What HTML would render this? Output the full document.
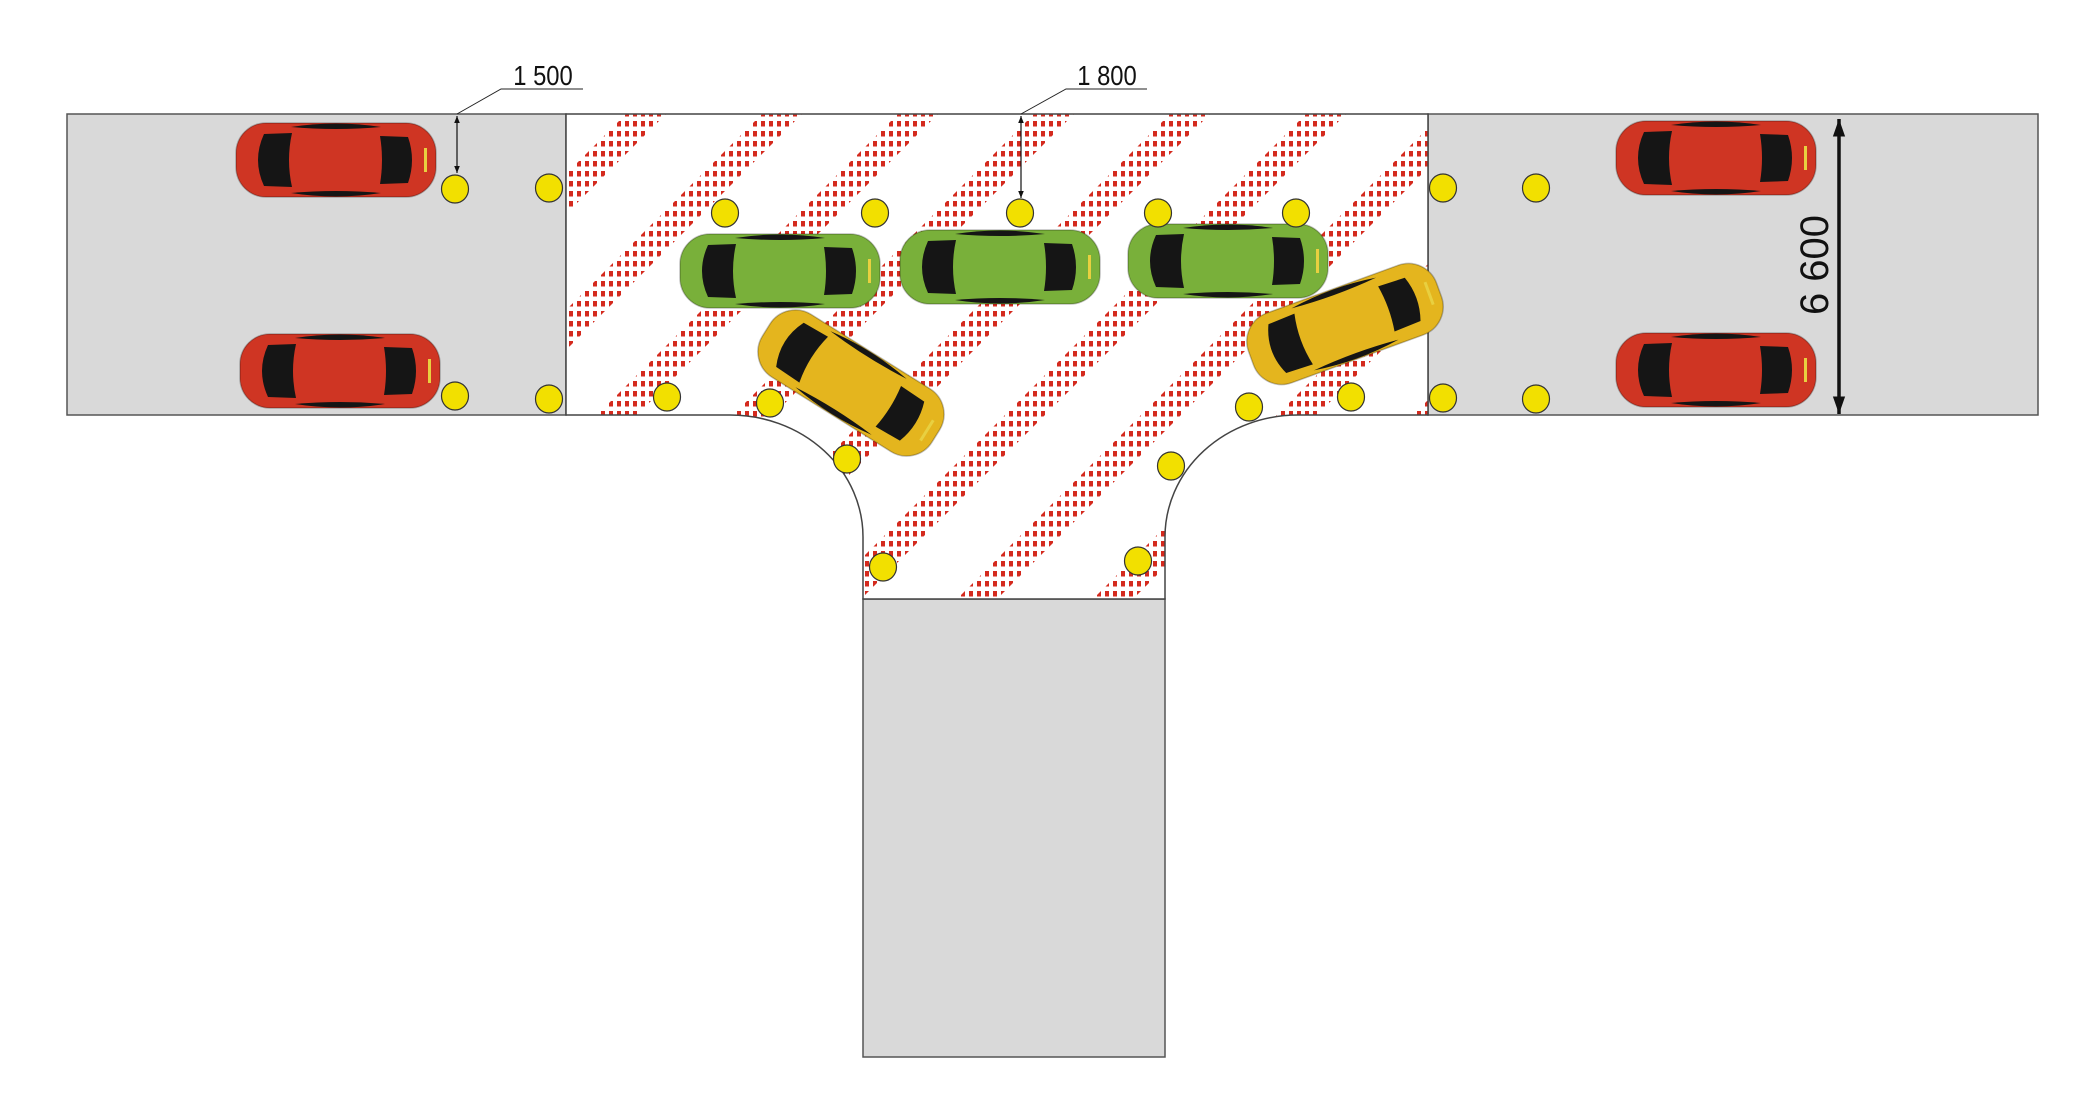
<!DOCTYPE html>
<html><head><meta charset="utf-8"><style>
html,body{margin:0;padding:0;background:#fff;}
svg{display:block;}
text{font-family:"Liberation Sans",sans-serif;fill:#111;}
</style></head><body>
<svg width="2100" height="1106" viewBox="0 0 2100 1106" xmlns="http://www.w3.org/2000/svg">
<defs>
<pattern id="dots" width="8" height="10" patternUnits="userSpaceOnUse">
<rect x="1" y="1" width="4" height="5.5" fill="#d42a1e"/>
</pattern>
<clipPath id="tclip">
<path d="M566,114 H1428 V415 H1298 A133,122 0 0 0 1165,537 V599 H863 V537 A133,122 0 0 0 730,415 H566 Z"/>
</clipPath>
<marker id="ah" viewBox="0 0 10 10" refX="10" refY="5" markerWidth="6" markerHeight="6" orient="auto-start-reverse"><path d="M0,1 L10,5 L0,9 Z" fill="#111"/></marker>
<marker id="ahb" viewBox="0 0 10 10" refX="10" refY="5" markerWidth="5" markerHeight="5" orient="auto-start-reverse"><path d="M0,1.5 L10,5 L0,8.5 Z" fill="#111"/></marker>
<g id="car">
<rect x="-100" y="-37" width="200" height="74" rx="30" fill="currentColor" stroke="rgba(0,0,0,0.25)" stroke-width="1.5"/>
<path d="M-72,-26 Q-84,0 -72,26 L-44,27 Q-50,0 -44,-27 Z" fill="#151515"/>
<path d="M44,-24 L72,-23 Q80,0 72,23 L44,24 Q48,0 44,-24 Z" fill="#151515"/>
<path d="M-45,-33 Q0,-40 45,-33 Q0,-29 -45,-33 Z" fill="#151515"/>
<path d="M-45,33 Q0,40 45,33 Q0,29 -45,33 Z" fill="#151515"/>
<rect x="88" y="-12" width="3" height="24" fill="#e8d040"/>
</g>
</defs>

<rect x="67" y="114" width="499" height="301" fill="#d9d9d9" stroke="#555" stroke-width="1.5"/>
<rect x="1428" y="114" width="610" height="301" fill="#d9d9d9" stroke="#555" stroke-width="1.5"/>
<rect x="863" y="599" width="302" height="458" fill="#d9d9d9" stroke="#555" stroke-width="1.5"/>

<path d="M566,114 H1428 V415 H1298 A133,122 0 0 0 1165,537 V599 H863 V537 A133,122 0 0 0 730,415 H566 Z" fill="#fff"/>
<g clip-path="url(#tclip)" fill="url(#dots)">
<polygon points="354,114 394,114 -106,614 -146,614"/>
<polygon points="490,114 530,114 30,614 -10,614"/>
<polygon points="626,114 666,114 166,614 126,614"/>
<polygon points="762,114 802,114 302,614 262,614"/>
<polygon points="898,114 938,114 438,614 398,614"/>
<polygon points="1034,114 1074,114 574,614 534,614"/>
<polygon points="1170,114 1210,114 710,614 670,614"/>
<polygon points="1306,114 1346,114 846,614 806,614"/>
<polygon points="1442,114 1482,114 982,614 942,614"/>
<polygon points="1578,114 1618,114 1118,614 1078,614"/>
<polygon points="1714,114 1754,114 1254,614 1214,614"/>
<polygon points="1850,114 1890,114 1390,614 1350,614"/>
</g>
<path d="M566,114 H1428 V415 H1298 A133,122 0 0 0 1165,537 V599 H863 V537 A133,122 0 0 0 730,415 H566 Z" fill="none" stroke="#444" stroke-width="1.5"/>

<use href="#car" transform="translate(336,160)" color="#cf3523"/>
<use href="#car" transform="translate(340,371)" color="#cf3523"/>
<use href="#car" transform="translate(1716,158)" color="#cf3523"/>
<use href="#car" transform="translate(1716,370)" color="#cf3523"/>
<use href="#car" transform="translate(780,271)" color="#79b03a"/>
<use href="#car" transform="translate(1000,267)" color="#79b03a"/>
<use href="#car" transform="translate(1228,261)" color="#79b03a"/>
<use href="#car" transform="translate(851,383) rotate(32)" color="#e4b51e"/>
<use href="#car" transform="translate(1345,324) rotate(-20)" color="#e4b51e"/>

<g fill="#f2e000" stroke="#333" stroke-width="1.2">
<ellipse cx="455" cy="189" rx="13.5" ry="14"/>
<ellipse cx="549" cy="188" rx="13.5" ry="14"/>
<ellipse cx="725" cy="213" rx="13.5" ry="14"/>
<ellipse cx="875" cy="213" rx="13.5" ry="14"/>
<ellipse cx="1020" cy="213" rx="13.5" ry="14"/>
<ellipse cx="455" cy="396" rx="13.5" ry="14"/>
<ellipse cx="549" cy="399" rx="13.5" ry="14"/>
<ellipse cx="667" cy="397" rx="13.5" ry="14"/>
<ellipse cx="770" cy="403" rx="13.5" ry="14"/>
<ellipse cx="847" cy="459" rx="13.5" ry="14"/>
<ellipse cx="883" cy="567" rx="13.5" ry="14"/>
<ellipse cx="1158" cy="213" rx="13.5" ry="14"/>
<ellipse cx="1296" cy="213" rx="13.5" ry="14"/>
<ellipse cx="1443" cy="188" rx="13.5" ry="14"/>
<ellipse cx="1536" cy="188" rx="13.5" ry="14"/>
<ellipse cx="1249" cy="407" rx="13.5" ry="14"/>
<ellipse cx="1351" cy="397" rx="13.5" ry="14"/>
<ellipse cx="1443" cy="398" rx="13.5" ry="14"/>
<ellipse cx="1536" cy="399" rx="13.5" ry="14"/>
<ellipse cx="1171" cy="466" rx="13.5" ry="14"/>
<ellipse cx="1138" cy="561" rx="13.5" ry="14"/>
</g>

<polyline points="457,114 501,89 583,89" fill="none" stroke="#222" stroke-width="1"/>
<line x1="457" y1="116" x2="457" y2="173" stroke="#111" stroke-width="1.2" marker-start="url(#ah)" marker-end="url(#ah)"/>
<text x="543" y="85" font-size="28" text-anchor="middle" transform="translate(543,0) scale(0.85,1) translate(-543,0)">1 500</text>

<polyline points="1021,114 1066,89 1147,89" fill="none" stroke="#222" stroke-width="1"/>
<line x1="1021" y1="116" x2="1021" y2="198" stroke="#111" stroke-width="1.2" marker-start="url(#ah)" marker-end="url(#ah)"/>
<text x="1107" y="85" font-size="28" text-anchor="middle" transform="translate(1107,0) scale(0.85,1) translate(-1107,0)">1 800</text>

<line x1="1839" y1="119" x2="1839" y2="414" stroke="#111" stroke-width="3.5" marker-start="url(#ahb)" marker-end="url(#ahb)"/>
<text x="0" y="0" font-size="40" text-anchor="middle" transform="translate(1828,265) rotate(-90)">6 600</text>
</svg>
</body></html>
